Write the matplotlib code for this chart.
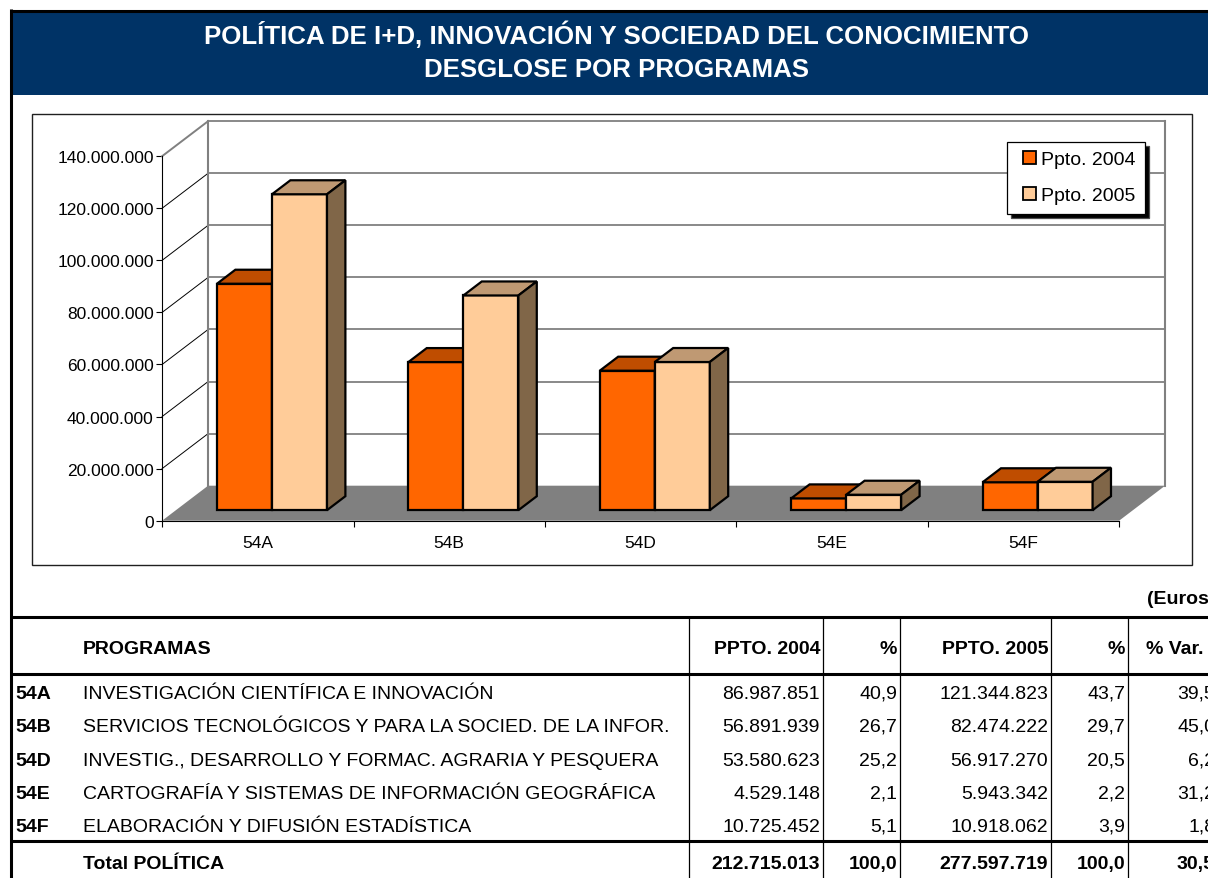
import matplotlib
matplotlib.use('Agg')
import matplotlib.pyplot as plt
from matplotlib.legend_handler import HandlerPatch
from matplotlib.patches import Patch, Polygon, Rectangle

plt.rcParams['font.family'] = ['Liberation Sans', 'DejaVu Sans']

# chart and table data
codes = ['54A', '54B', '54D', '54E', '54F']
programas = ['INVESTIGACIÓN CIENTÍFICA E INNOVACIÓN',
             'SERVICIOS TECNOLÓGICOS Y PARA LA SOCIED. DE LA INFOR.',
             'INVESTIG., DESARROLLO Y FORMAC. AGRARIA Y PESQUERA',
             'CARTOGRAFÍA Y SISTEMAS DE INFORMACIÓN GEOGRÁFICA',
             'ELABORACIÓN Y DIFUSIÓN ESTADÍSTICA']
ppto_2004 = [86987851, 56891939, 53580623, 4529148, 10725452]
ppto_2005 = [121344823, 82474222, 56917270, 5943342, 10918062]
pct_2004 = ['40,9', '26,7', '25,2', '2,1', '5,1']
pct_2005 = ['43,7', '29,7', '20,5', '2,2', '3,9']
pct_var = ['39,5', '45,0', '6,2', '31,2', '1,8']
total_row = ['212.715.013', '100,0', '277.597.719', '100,0', '30,5']
header_row = ['PPTO. 2004', '%', 'PPTO. 2005', '%', '% Var.']
y_ticks = [0, 20000000, 40000000, 60000000, 80000000, 100000000, 120000000, 140000000]

W, H = 1208, 879


def dotted(n):
    return f'{n:,}'.replace(',', '.')


def draw_bar(ax, x, val, front, top, side):
    # 3d look: front face from bar(), top and side faces pushed back by the depth
    x0, x1 = x + 0.3 * DX, x + BAR_W + 0.3 * DX
    y0, y1 = 0.3 * DY, 0.3 * DY + val
    dx, dy = 0.4 * DX, 0.4 * DY
    ax.bar(x0, val, BAR_W, bottom=y0, align='edge', color=front, edgecolor='black',
           linewidth=1.6, clip_on=False, zorder=5)
    ax.add_patch(Polygon([(x0, y1), (x1, y1), (x1 + dx, y1 + dy), (x0 + dx, y1 + dy)], closed=True,
                         fc=top, ec='black', lw=1.6, clip_on=False, zorder=5))
    ax.add_patch(Polygon([(x1, y0), (x1 + dx, y0 + dy), (x1 + dx, y1 + dy), (x1, y1)], closed=True,
                         fc=side, ec='black', lw=1.6, clip_on=False, zorder=5))


fig = plt.figure(figsize=(W / 100, H / 100), dpi=100, facecolor='white')

# background layer in pixels for the frame, header band and table
bg = fig.add_axes([0, 0, 1, 1], zorder=0)
bg.set_xlim(0, W)
bg.set_ylim(H, 0)
bg.axis('off')

bg.add_patch(Rectangle((11, 12), W, 83.5, fc='#003366', ec='none'))
bg.plot([9.5, W], [11.5, 11.5], color='black', lw=2.2, solid_capstyle='butt')
bg.plot([11, 11], [10, H], color='black', lw=2.2, solid_capstyle='butt')
bg.text(616, 44, 'POLÍTICA DE I+D, INNOVACIÓN Y SOCIEDAD DEL CONOCIMIENTO', color='white',
        fontsize=18.6, fontweight='bold', ha='center', va='baseline')
bg.text(616, 77, 'DESGLOSE POR PROGRAMAS', color='white', fontsize=18.6, fontweight='bold',
        ha='center', va='baseline')
bg.add_patch(Rectangle((32, 114.5), 1160, 451.5, fc='white', ec='#202020', lw=1.0))

# table
bg.text(1147, 604, '(Euros)', fontsize=14, fontweight='bold', ha='left', va='baseline')
for y in [618, 675, 842]:
    bg.plot([11, W], [y, y], color='black', lw=2.2, solid_capstyle='butt')
for x in [689, 823, 900, 1051, 1128]:
    bg.plot([x, x], [617, H], color='black', lw=0.9, solid_capstyle='butt')

col_right = [820, 897, 1048, 1125, 1215]
row_y = [699, 732, 766, 799, 832]
bg.text(83, 654, 'PROGRAMAS', fontsize=14, fontweight='bold', ha='left', va='baseline')
for x, s in zip(col_right, header_row):
    bg.text(x - 12 if s == '% Var.' else x, 654, s, fontsize=14, fontweight='bold', ha='right', va='baseline')
for i, y in enumerate(row_y):
    bg.text(15.5, y, codes[i], fontsize=14, fontweight='bold', ha='left', va='baseline')
    bg.text(83, y, programas[i], fontsize=14, ha='left', va='baseline')
    vals = [dotted(ppto_2004[i]), pct_2004[i], dotted(ppto_2005[i]), pct_2005[i], pct_var[i]]
    for x, s in zip(col_right, vals):
        bg.text(x, y, s, fontsize=14, ha='right', va='baseline')
bg.text(83, 869, 'Total POLÍTICA', fontsize=14, fontweight='bold', ha='left', va='baseline')
for x, s in zip(col_right, total_row):
    bg.text(x, 869, s, fontsize=14, fontweight='bold', ha='right', va='baseline')

# chart axes: the front plane of the 3d box
ax = fig.add_axes([162.1 / W, 1 - 521.7 / H, 957 / W, 364.5 / H], zorder=1)
ax.patch.set_alpha(0)
ax.set_xlim(0, len(codes))
ax.set_ylim(0, 140000000)
DX = 46 / 191.4
DY = 35 / 364.5 * 140000000
BAR_W = 0.2874
GAP = 0.2146

n = len(codes)
ax.add_patch(Polygon([(0, 0), (DX, DY), (n + DX, DY), (n, 0)], closed=True, fc='#808080', ec='none',
                     clip_on=False, zorder=1))
for v in y_ticks:
    top = v == y_ticks[-1]
    if v > 0:
        ax.plot([0, DX], [v, v + DY], color='#808080' if top else 'black', lw=1.4 if top else 0.7,
                clip_on=False, zorder=2)
        ax.plot([DX, n + DX], [v + DY, v + DY], color='#808080', lw=1.3, clip_on=False, zorder=2)
ax.plot([DX, DX], [DY, y_ticks[-1] + DY], color='#808080', lw=1.5, clip_on=False, zorder=2)
ax.plot([n + DX, n + DX], [DY, y_ticks[-1] + DY], color='#808080', lw=1.5, clip_on=False, zorder=2)

for i in range(n):
    draw_bar(ax, i + GAP, ppto_2004[i], '#FF6600', '#BF4D00', '#803300')
    draw_bar(ax, i + GAP + BAR_W, ppto_2005[i], '#FFCC99', '#BF9973', '#806648')

for s in ['top', 'right']:
    ax.spines[s].set_visible(False)
ax.spines['left'].set_linewidth(0.8)
ax.spines['bottom'].set_linewidth(0.8)
ax.set_yticks(y_ticks)
ax.set_yticklabels([dotted(v) for v in y_ticks], fontsize=12.5)
ax.set_xticks(range(n + 1))
ax.set_xticklabels([])
ax.set_xticks([i + 0.5 for i in range(n)], minor=True)
ax.set_xticklabels(codes, minor=True, fontsize=12.5)
ax.tick_params(axis='x', which='major', length=4.5, width=0.8)
ax.tick_params(axis='x', which='minor', length=0, pad=10.5)
ax.tick_params(axis='y', length=4.5, width=0.8, pad=1.5)

handles = [Patch(fc='#FF6600', ec='black', lw=1.3, label='Ppto. 2004'),
           Patch(fc='#FFCC99', ec='black', lw=1.3, label='Ppto. 2005')]
# xpad pushes the swatch right inside its handle box, left padding is wider than the top one
leg = ax.legend(handles=handles, loc='upper left', bbox_to_anchor=(1007 / W, 1 - 142.5 / H),
                bbox_transform=fig.transFigure, fontsize=14, fancybox=False, framealpha=1,
                edgecolor='black', borderpad=0.49, borderaxespad=0, handlelength=0.985, handleheight=0.65,
                handletextpad=0.25, labelspacing=0.95,
                handler_map={Patch: HandlerPatch(xpad=0.335)},
                shadow={'ox': 3, 'oy': -3, 'fc': 'black', 'alpha': 1})
leg.get_frame().set_linewidth(0.9)
leg.set_zorder(10)

fig.savefig('out.png', dpi=100)
